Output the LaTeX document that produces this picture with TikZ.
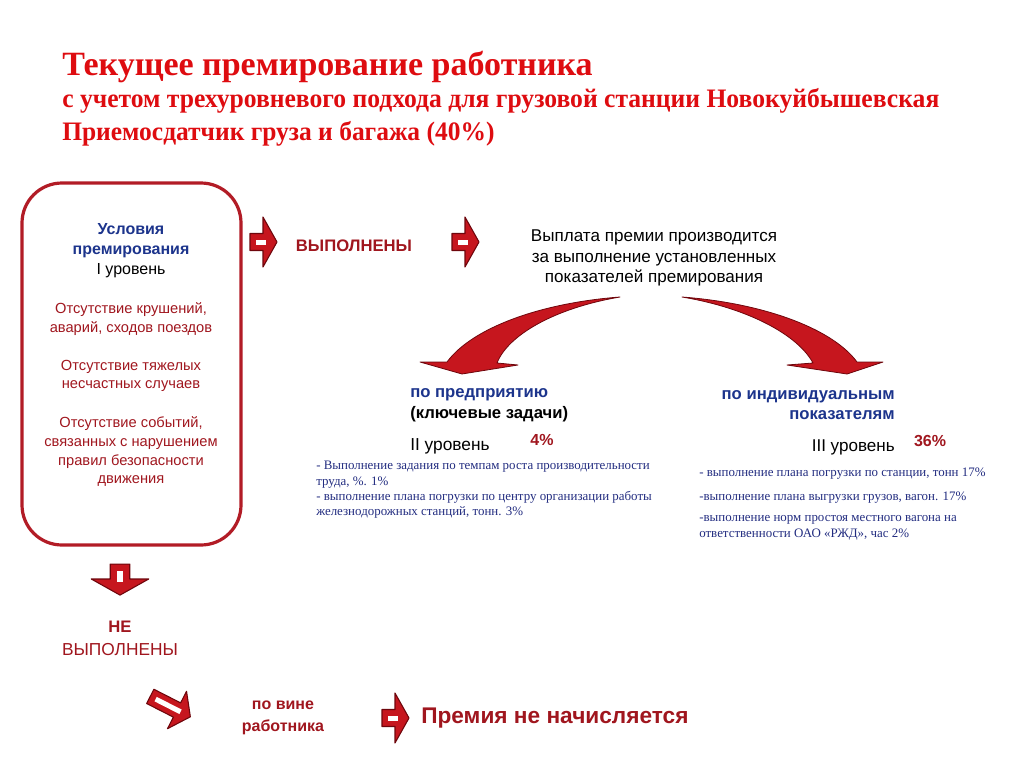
\documentclass[tikz,border=0pt]{standalone}
\usepackage{fontspec}
\setmainfont{Liberation Serif}
\setsansfont{Liberation Sans}
\usetikzlibrary{positioning}
\definecolor{titlered}{RGB}{222,12,16}
\definecolor{boxred}{RGB}{178,28,38}
\definecolor{darkred}{RGB}{160,22,30}
\definecolor{headblue}{RGB}{28,52,140}
\definecolor{smallblue}{RGB}{34,44,128}
\definecolor{arrred}{RGB}{198,22,30}
\definecolor{arrdark}{RGB}{110,6,12}
\tikzset{
  ttl/.style   ={anchor=base west, inner sep=0pt, text=titlered, font=\bfseries},
  txt/.style   ={align=center, inner sep=0pt, font=\sffamily\fontsize{11}{14}\selectfont},
  cond/.style  ={txt, text=darkred},
  head/.style  ={inner sep=0pt, font=\sffamily\bfseries\fontsize{12.5}{15}\selectfont, text=headblue},
  small/.style ={align=left, inner sep=0pt, anchor=north west, text=smallblue,
                 font=\fontsize{9.7}{11.5}\selectfont},
  pct/.style   ={inner sep=0pt, font=\sffamily\bfseries\fontsize{12}{14}\selectfont, text=darkred},
  curvarr/.style={fill=arrred, draw=arrdark, line width=0.6pt, line join=round},
  barrow/.pic  ={
    \draw[fill=arrred, draw=arrdark, line width=0.8pt, line join=round]
      (-13,-8.5) -- (0,-8.5) -- (0,-25) -- (14,0) -- (0,25) -- (0,8.5) -- (-13,8.5) -- cycle;
    \fill[white] (-7,-2.5) rectangle (3,2.5);
  },
  lbarrow/.pic ={
    \draw[fill=arrred, draw=arrdark, line width=0.8pt, line join=round]
      (-30,-8) -- (0,-8) -- (0,-21) -- (15,0) -- (0,21) -- (0,8) -- (-30,8) -- cycle;
    \fill[white] (-24,-2.5) rectangle (4,2.5);
  },
}

\begin{document}
\begin{tikzpicture}[x=0.75pt,y=-0.75pt]
\useasboundingbox (0,0) rectangle (1024,767);

% title
\node[ttl, font=\bfseries\fontsize{25.5}{28}\selectfont] (title) at (62,75) {Текущее премирование работника};
\node[ttl, font=\bfseries\fontsize{20}{24}\selectfont] (sub1) at (62,108)
  {\scalebox{0.96}[1]{с учетом трехуровневого подхода для грузовой станции Новокуйбышевская}};
\node[ttl, font=\bfseries\fontsize{20}{24}\selectfont] (sub2) at (62,140)
  {\scalebox{0.955}[1]{Приемосдатчик груза и багажа (40\%)}};

% level I box
\draw[boxred, line width=2.4pt, rounded corners=30] (22,183) rectangle (241,545);
\node[head, align=center, font=\sffamily\bfseries\fontsize{12}{15}\selectfont] (lvl1) at (131,241) {Условия\\премирования};
\node[txt, font=\sffamily\fontsize{12}{14}\selectfont] (lvl1n) at (131,271) {I уровень};
\node[cond] (cond1) at (131,319) {Отсутствие крушений,\\аварий, сходов поездов};
\node[cond] (cond2) at (131,376) {Отсутствие тяжелых\\несчастных случаев};
\node[cond] (cond3) at (131,452) {Отсутствие событий,\\связанных с нарушением\\правил безопасности\\движения};

% fulfilled
\pic at (263,242) {barrow};
\node[txt, font=\sffamily\bfseries\fontsize{12.5}{15}\selectfont, text=darkred] (done) at (354,246) {ВЫПОЛНЕНЫ};
\pic at (465,242) {barrow};
\node[txt, font=\sffamily\fontsize{12.8}{15.4}\selectfont] (pay) at (654,258)
  {Выплата премии производится\\за выполнение установленных\\показателей премирования};

% curved arrows
\draw[curvarr] (620,297) .. controls (540,303) and (472,328) .. (447,362)
  -- (420,362) -- (462,374) -- (518,365) -- (497,363)
  .. controls (508,335) and (555,308) .. (620,297) -- cycle;
\draw[curvarr] (682,297) .. controls (762,303) and (832,328) .. (857,362)
  -- (883,362) -- (847,374) -- (787,365) -- (813,363)
  .. controls (798,335) and (748,308) .. (682,297) -- cycle;

% level II
\node[head, anchor=west] (ent) at (410,395) {по предприятию};
\node[head, anchor=west, text=black] (keys) at (410,414) {(ключевые задачи)};
\node[txt, anchor=west, font=\sffamily\fontsize{13}{14}\selectfont] (lvl2) at (410,446) {II уровень};
\node[pct] (p4) at (542,440) {4\%};
\node[small] (tasks2) at (316,461)
  {- Выполнение задания по темпам роста производительности\\труда, \%. 1\%\\
   - выполнение плана погрузки по центру организации работы\\железнодорожных станций, тонн. 3\%};

% level III
\node[head, align=right, anchor=east] (ind) at (895,405) {по индивидуальным\\показателям};
\node[txt, anchor=east, font=\sffamily\fontsize{12.8}{14}\selectfont] (lvl3) at (895,447) {III уровень};
\node[pct] (p36) at (930,441) {36\%};
\node[small, font=\fontsize{9.7}{12}\selectfont] (tasks3) at (699,468)
  {- выполнение плана погрузки по станции, тонн 17\%\\[5.5pt]
   -выполнение плана выгрузки грузов, вагон. 17\%\\[4pt]
   -выполнение норм простоя местного вагона на\\ответственности ОАО «РЖД», час 2\%};

% not fulfilled
\pic[rotate=-90, scale=1.15] at (120,579) {barrow};
\node[txt, font=\sffamily\bfseries\fontsize{12.5}{15}\selectfont, text=darkred] (no) at (120,627) {НЕ};
\node[txt, font=\sffamily\fontsize{13}{15}\selectfont, text=darkred] (nodone) at (120,650) {ВЫПОЛНЕНЫ};
\pic[rotate=-27] at (177,710) {lbarrow};
\node[txt, font=\sffamily\bfseries\fontsize{12}{17}\selectfont, text=darkred] (fault) at (283,718) {по вине\\работника};
\pic at (395,718) {barrow};
\node[txt, anchor=west, font=\sffamily\bfseries\fontsize{17}{20}\selectfont, text=darkred] (none) at (421,718)
  {Премия не начисляется};
\end{tikzpicture}
\end{document}
